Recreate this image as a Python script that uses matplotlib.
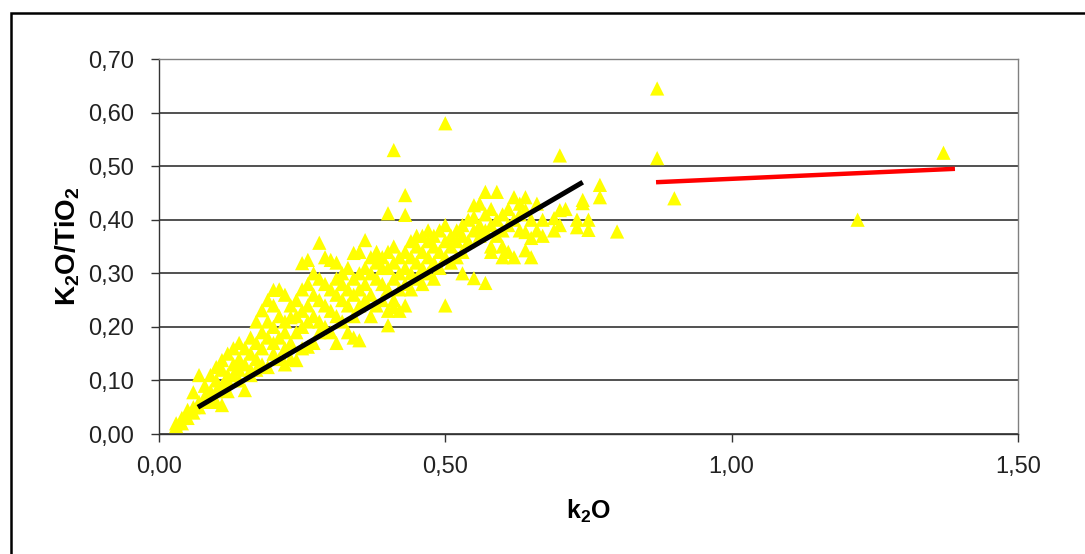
import matplotlib
matplotlib.use("Agg")
import matplotlib.pyplot as plt
from matplotlib.patches import Rectangle
from matplotlib.ticker import FuncFormatter, MultipleLocator

plt.rcParams['font.family'] = ['Liberation Sans', 'DejaVu Sans']
plt.rcParams['mathtext.fontset'] = 'custom'
plt.rcParams['mathtext.rm'] = 'Liberation Sans:bold'
plt.rcParams['mathtext.it'] = 'Liberation Sans:bold'
plt.rcParams['mathtext.bf'] = 'Liberation Sans:bold'

# k2O values (x) and K2O/TiO2 values (y)
k2o = [
    0.03, 0.03, 0.04, 0.04, 0.05, 0.05, 0.06, 0.06, 0.06, 0.07, 0.07, 0.07,
    0.08, 0.08, 0.08, 0.09, 0.09, 0.09, 0.10, 0.10, 0.10, 0.10, 0.11, 0.11,
    0.11, 0.11, 0.12, 0.12, 0.12, 0.12, 0.13, 0.13, 0.13, 0.14, 0.14, 0.14,
    0.14, 0.15, 0.15, 0.15, 0.16, 0.16, 0.16, 0.16, 0.17, 0.17, 0.17, 0.17,
    0.18, 0.18, 0.18, 0.18, 0.19, 0.19, 0.19, 0.19, 0.20, 0.20, 0.20, 0.20,
    0.20, 0.21, 0.21, 0.21, 0.21, 0.22, 0.22, 0.22, 0.22, 0.22, 0.23, 0.23,
    0.23, 0.23, 0.24, 0.24, 0.24, 0.24, 0.25, 0.25, 0.25, 0.25, 0.25, 0.26,
    0.26, 0.26, 0.26, 0.26, 0.27, 0.27, 0.27, 0.27, 0.28, 0.28, 0.28, 0.28,
    0.28, 0.29, 0.29, 0.29, 0.29, 0.30, 0.30, 0.30, 0.30, 0.31, 0.31, 0.31,
    0.31, 0.31, 0.32, 0.32, 0.32, 0.32, 0.33, 0.33, 0.33, 0.33, 0.34, 0.34,
    0.34, 0.34, 0.34, 0.35, 0.35, 0.35, 0.35, 0.35, 0.36, 0.36, 0.36, 0.36,
    0.37, 0.37, 0.37, 0.37, 0.38, 0.38, 0.38, 0.38, 0.39, 0.39, 0.39, 0.39,
    0.40, 0.40, 0.40, 0.40, 0.40, 0.40, 0.41, 0.41, 0.41, 0.41, 0.41, 0.41,
    0.42, 0.42, 0.42, 0.42, 0.43, 0.43, 0.43, 0.43, 0.43, 0.43, 0.44, 0.44,
    0.44, 0.44, 0.45, 0.45, 0.45, 0.45, 0.46, 0.46, 0.46, 0.46, 0.47, 0.47,
    0.47, 0.47, 0.48, 0.48, 0.48, 0.48, 0.49, 0.49, 0.49, 0.50, 0.50, 0.50,
    0.50, 0.50, 0.51, 0.51, 0.51, 0.52, 0.52, 0.52, 0.53, 0.53, 0.53, 0.53,
    0.54, 0.54, 0.55, 0.55, 0.55, 0.55, 0.56, 0.56, 0.56, 0.57, 0.57, 0.57,
    0.57, 0.58, 0.58, 0.58, 0.58, 0.59, 0.59, 0.59, 0.60, 0.60, 0.60, 0.60,
    0.61, 0.61, 0.61, 0.62, 0.62, 0.62, 0.63, 0.63, 0.63, 0.64, 0.64, 0.64,
    0.64, 0.65, 0.65, 0.65, 0.66, 0.66, 0.67, 0.67, 0.69, 0.69, 0.70, 0.70,
    0.70, 0.71, 0.73, 0.73, 0.74, 0.74, 0.75, 0.75, 0.77, 0.77, 0.80, 0.87,
    0.87, 0.90, 1.22, 1.37,
]
ratio = [
    0.020, 0.015, 0.030, 0.020, 0.045, 0.030, 0.078, 0.050, 0.040, 0.110, 0.060, 0.050,
    0.090, 0.070, 0.060, 0.110, 0.080, 0.060, 0.125, 0.100, 0.080, 0.060, 0.138, 0.120,
    0.090, 0.054, 0.150, 0.110, 0.100, 0.080, 0.160, 0.130, 0.110, 0.170, 0.140, 0.120,
    0.100, 0.160, 0.130, 0.082, 0.180, 0.150, 0.120, 0.110, 0.210, 0.170, 0.140, 0.120,
    0.231, 0.190, 0.160, 0.130, 0.250, 0.210, 0.180, 0.125, 0.269, 0.240, 0.200, 0.170,
    0.150, 0.270, 0.220, 0.180, 0.140, 0.260, 0.210, 0.190, 0.160, 0.130, 0.240, 0.218,
    0.170, 0.140, 0.250, 0.220, 0.190, 0.138, 0.319, 0.270, 0.230, 0.200, 0.160, 0.325,
    0.280, 0.240, 0.210, 0.163, 0.300, 0.260, 0.220, 0.170, 0.357, 0.290, 0.250, 0.210,
    0.190, 0.330, 0.280, 0.240, 0.200, 0.325, 0.270, 0.230, 0.190, 0.320, 0.290, 0.260,
    0.220, 0.170, 0.300, 0.280, 0.250, 0.210, 0.310, 0.270, 0.240, 0.190, 0.338, 0.290,
    0.260, 0.220, 0.180, 0.340, 0.300, 0.270, 0.240, 0.175, 0.362, 0.310, 0.280, 0.250,
    0.330, 0.300, 0.260, 0.220, 0.340, 0.320, 0.290, 0.240, 0.330, 0.310, 0.280, 0.250,
    0.412, 0.340, 0.310, 0.270, 0.230, 0.203, 0.530, 0.350, 0.320, 0.290, 0.250, 0.237,
    0.330, 0.300, 0.270, 0.230, 0.446, 0.409, 0.340, 0.310, 0.280, 0.240, 0.360, 0.330,
    0.300, 0.270, 0.350, 0.320, 0.290, 0.370, 0.370, 0.340, 0.310, 0.280, 0.360, 0.330,
    0.300, 0.380, 0.370, 0.350, 0.320, 0.290, 0.380, 0.340, 0.310, 0.580, 0.390, 0.360,
    0.330, 0.240, 0.370, 0.350, 0.320, 0.380, 0.360, 0.330, 0.390, 0.370, 0.340, 0.300,
    0.400, 0.360, 0.427, 0.405, 0.380, 0.291, 0.430, 0.390, 0.370, 0.452, 0.410, 0.380,
    0.282, 0.420, 0.390, 0.350, 0.340, 0.452, 0.400, 0.370, 0.410, 0.380, 0.350, 0.330,
    0.420, 0.390, 0.340, 0.442, 0.400, 0.330, 0.430, 0.410, 0.380, 0.442, 0.418, 0.377,
    0.343, 0.400, 0.366, 0.330, 0.430, 0.380, 0.400, 0.370, 0.403, 0.380, 0.520, 0.418,
    0.390, 0.420, 0.400, 0.386, 0.431, 0.437, 0.381, 0.400, 0.465, 0.442, 0.378, 0.645,
    0.515, 0.440, 0.400, 0.525,
]

# trend lines (end points)
black_x = [0.068, 0.740]
black_y = [0.050, 0.470]
red_x = [0.868, 1.390]
red_y = [0.470, 0.495]

fig = plt.figure(figsize=(10.85, 5.54), dpi=100)
ax = fig.add_axes([0.1465, 0.2166, 0.7917, 0.6769])

ax.scatter(k2o, ratio, marker='^', s=105, color='#FFFF00', edgecolors='none', zorder=3)
ax.plot(black_x, black_y, color='black', lw=3.6, solid_capstyle='butt', zorder=4)
ax.plot(red_x, red_y, color='#FF0000', lw=3.2, solid_capstyle='butt', zorder=4)

ax.set_xlim(0, 1.5)
ax.set_ylim(0, 0.7)
ax.xaxis.set_major_locator(MultipleLocator(0.5))
ax.yaxis.set_major_locator(MultipleLocator(0.1))
fmt = FuncFormatter(lambda v, p: f"{v:.2f}".replace('.', ','))
ax.xaxis.set_major_formatter(fmt)
ax.yaxis.set_major_formatter(fmt)

ax.grid(axis='y', color='#333333', lw=1.2)
ax.set_axisbelow(True)
for s in ax.spines.values():
    s.set_color('#808080')
    s.set_linewidth(1.0)
ax.spines['left'].set_color('#333333')
ax.spines['bottom'].set_color('#333333')
ax.tick_params(axis='both', direction='out', length=6, width=1, color='#333333',
               labelsize=17, labelcolor='#222222')
ax.tick_params(axis='y', pad=12)
ax.tick_params(axis='x', pad=10)

ax.set_xlabel(r"k$_2$O", fontsize=18, fontweight='bold', labelpad=14)
ax.set_ylabel(r"K$_2$O/TiO$_2$", fontsize=20, fontweight='bold', labelpad=4)

# outer chart border
fig.patches.append(Rectangle((10.5 / 1085, -0.05), 1.1, 1 - 13 / 554 + 0.05,
                             transform=fig.transFigure, fill=False,
                             edgecolor='black', lw=1.8))

fig.savefig('out.png', dpi=100)
